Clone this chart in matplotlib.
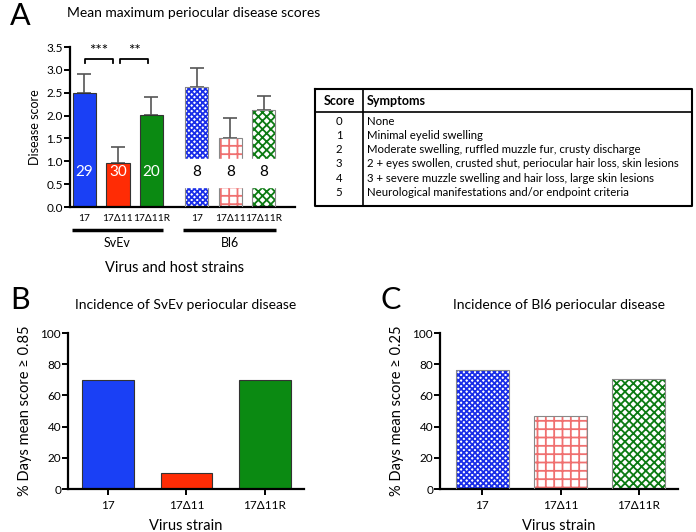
import matplotlib.pyplot as plt
import matplotlib.transforms as mtransforms

plt.rcParams['font.family'] = ['Lato', 'DejaVu Sans']
plt.rcParams['hatch.linewidth'] = 1.3

# ---- data ----
strains = ["17", "17\u039411", "17\u039411R"]
svev_scores = [2.50, 0.97, 2.02]
svev_err = [0.40, 0.35, 0.38]
svev_n = ["29", "30", "20"]
bl6_scores = [2.62, 1.50, 2.12]
bl6_err = [0.43, 0.44, 0.30]
bl6_n = ["8", "8", "8"]

svev_incidence = [70, 10, 70]
bl6_incidence = [76.5, 47, 70.5]

score_levels = ["0", "1", "2", "3", "4", "5"]
symptoms = [
    "None",
    "Minimal eyelid swelling",
    "Moderate swelling, ruffled muzzle fur, crusty discharge",
    "2 + eyes swollen, crusted shut, periocular hair loss, skin lesions",
    "3 + severe muzzle swelling and hair loss, large skin lesions",
    "Neurological manifestations and/or endpoint criteria",
]

solid_colors = ['#1a40f5', '#ff2c05', '#0b8a12']
hatch_colors = ['#1a2ee8', '#f07070', '#0b7a12']
hatches = ['xxxxxx', '++', 'xxxx']

W, H = 696, 532
fig = plt.figure(figsize=(W / 100, H / 100), dpi=100)


def box(l, t, r, b):
    return [l / W, 1 - b / H, (r - l) / W, (b - t) / H]


def style_axes(ax):
    for s in ['top', 'right']:
        ax.spines[s].set_visible(False)
    for s in ['left', 'bottom']:
        ax.spines[s].set_linewidth(1.6)
    ax.tick_params(axis='y', direction='out', length=4, width=1.4, labelsize=8.5, pad=1)
    ax.tick_params(axis='x', labelsize=8.5)


def hatched_bars(ax, x, heights, width):
    for xi, h, hc, ht in zip(x, heights, hatch_colors, hatches):
        ax.bar(xi, h, width, color='white', edgecolor=hc, hatch=ht, linewidth=0, zorder=2)
        ax.bar(xi, h, width, fill=False, edgecolor='#888888', linewidth=0.8, zorder=3)


# ---- panel A ----
axA = fig.add_axes(box(70, 47, 295, 207))
style_axes(axA)
xs_sv = [0, 1, 2]
xs_bl = [3.35, 4.35, 5.35]
bw = 0.69
axA.bar(xs_sv, svev_scores, bw, color=solid_colors, edgecolor='#333333', linewidth=0.8, zorder=2)
axA.errorbar(xs_sv, svev_scores, yerr=[[0] * 3, svev_err], fmt='none', ecolor='#555555',
             elinewidth=1.2, capsize=5, capthick=1.2, zorder=1)
hatched_bars(axA, xs_bl, bl6_scores, bw)
axA.errorbar(xs_bl, bl6_scores, yerr=[[0] * 3, bl6_err], fmt='none', ecolor='#555555',
             elinewidth=1.2, capsize=5, capthick=1.2, zorder=1)
# white gap behind the n labels of the Bl6 bars
axA.fill_between([2.9, 5.75], 0.43, 1.05, color='white', zorder=4)
for xi, n in zip(xs_sv, svev_n):
    axA.text(xi, 0.76, n, ha='center', va='center', color='white', fontsize=11, zorder=5)
for xi, n in zip(xs_bl, bl6_n):
    axA.text(xi, 0.76, n, ha='center', va='center', color='black', fontsize=11, zorder=5)

axA.set_xlim(-0.43, 6.28)
axA.set_ylim(0, 3.5)
axA.set_yticks([0, 0.5, 1.0, 1.5, 2.0, 2.5, 3.0, 3.5])
axA.set_yticklabels(['0.0', '0.5', '1.0', '1.5', '2.0', '2.5', '3.0', '3.5'])
axA.set_xticks(xs_sv + xs_bl)
axA.set_xticklabels(strains + strains)
axA.tick_params(axis='x', length=0, pad=5, labelsize=7.3)
axA.set_ylabel("Disease score", fontsize=9, labelpad=4)

# significance brackets
for x0, x1, stars in [(0.02, 0.85, '***'), (1.06, 1.9, '**')]:
    axA.plot([x0, x0, x1, x1], [3.15, 3.24, 3.24, 3.15], color='black', lw=1.3, clip_on=False)
    axA.text((x0 + x1) / 2, 3.27, stars, ha='center', va='bottom', fontsize=11)

# host strain group lines
trans = mtransforms.blended_transform_factory(axA.transData, axA.transAxes)
for x0, x1, name in [(-0.37, 2.34, "SvEv"), (2.94, 5.72, "Bl6")]:
    axA.plot([x0, x1], [-0.144, -0.144], color='black', lw=2.5, transform=trans,
             clip_on=False, solid_capstyle='butt')
    axA.text((x0 + x1) / 2, -0.225, name, transform=trans, ha='center', va='center', fontsize=9)
axA.text(0.5 * (-0.37 + 5.72), -0.38, "Virus and host strains", transform=trans,
         ha='center', va='center', fontsize=10.5)

fig.text(67 / W, 1 - 13 / H, "Mean maximum periocular disease scores", fontsize=10,
         ha='left', va='center')
fig.text(10 / W, 1 - 16 / H, "A", fontsize=22, ha='left', va='center')

# ---- score table ----
axT = fig.add_axes(box(315, 89, 692, 206))
axT.set_xlim(0, 377)
axT.set_ylim(117, 0)
axT.axis('off')
axT.plot([0, 377, 377, 0, 0], [0, 0, 117, 117, 0], color='black', lw=1.5, clip_on=False)
axT.plot([0, 377], [23, 23], color='black', lw=1.2)
axT.plot([48, 48], [0, 117], color='black', lw=1.2)
axT.text(24, 11.5, "Score", ha='center', va='center', fontsize=9, fontweight='bold')
axT.text(52, 11.5, "Symptoms", ha='left', va='center', fontsize=9, fontweight='bold')
for i, (lev, sym) in enumerate(zip(score_levels, symptoms)):
    yy = 32 + i * 14.3
    axT.text(24, yy, lev, ha='center', va='center', fontsize=8.2)
    axT.text(52, yy, sym, ha='left', va='center', fontsize=8.2)

# ---- panel B ----
axB = fig.add_axes(box(68, 333, 304, 489))
style_axes(axB)
xb = [0, 1, 2]
axB.bar(xb, svev_incidence, 0.66, color=solid_colors, edgecolor='#333333', linewidth=0.8)
axB.set_xlim(-0.51, 2.5)
axB.set_ylim(0, 100)
axB.set_yticks([0, 20, 40, 60, 80, 100])
axB.set_xticks(xb)
axB.set_xticklabels(strains)
axB.tick_params(axis='x', direction='out', length=4, width=1.4, pad=4)
axB.set_ylabel("% Days mean score \u2265 0.85", fontsize=10.5, labelpad=6)
axB.set_xlabel("Virus strain", fontsize=10.5, labelpad=6)
axB.set_title("Incidence of SvEv periocular disease", fontsize=10, pad=17)
fig.text(10 / W, 1 - 300 / H, "B", fontsize=22, ha='left', va='center')

# ---- panel C ----
axC = fig.add_axes(box(440, 333, 678, 489))
style_axes(axC)
hatched_bars(axC, xb, bl6_incidence, 0.68)
axC.set_xlim(-0.54, 2.5)
axC.set_ylim(0, 100)
axC.set_yticks([0, 20, 40, 60, 80, 100])
axC.set_xticks(xb)
axC.set_xticklabels(strains)
axC.tick_params(axis='x', direction='out', length=4, width=1.4, pad=4)
axC.set_ylabel("% Days mean score \u2265 0.25", fontsize=10.5, labelpad=6)
axC.set_xlabel("Virus strain", fontsize=10.5, labelpad=6)
axC.set_title("Incidence of Bl6 periocular disease", fontsize=10, pad=17)
fig.text(380 / W, 1 - 300 / H, "C", fontsize=22, ha='left', va='center')

fig.savefig("out.png", dpi=100)
